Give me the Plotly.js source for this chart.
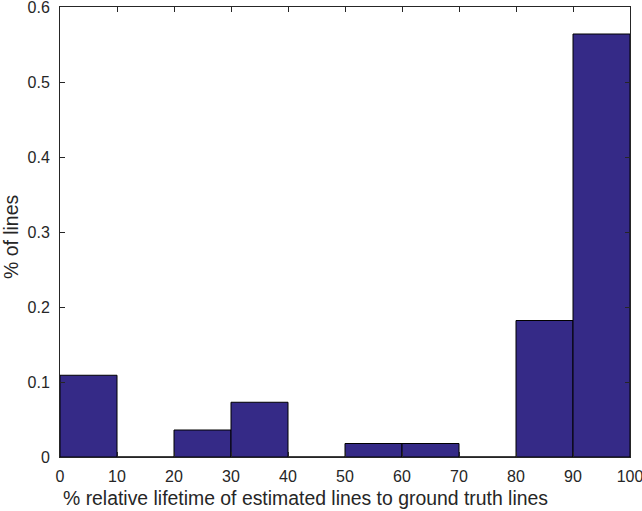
<!DOCTYPE html>
<html lang="en">
<head>
    <meta charset="UTF-8">
    <title>Relative lifetime histogram</title>
    <script src="https://cdn.plot.ly/plotly-3.0.1.min.js"></script>
    <style>
        body { margin: 0; padding: 0; background: white; }
        #plot { width: 642px; height: 511px; }
    </style>
</head>
<body>
    <div id="plot"></div>
    <script>
        // bin edges (percent) and fraction of lines in each bin
        const binStarts = [0, 10, 20, 30, 40, 50, 60, 70, 80, 90];
        const binWidth = 10;
        const fractions = [0.109, 0, 0.036, 0.073, 0, 0.018, 0.018, 0, 0.182, 0.564];
        const xTicks = [0, 10, 20, 30, 40, 50, 60, 70, 80, 90, 100];
        const yTicks = [0, 0.1, 0.2, 0.3, 0.4, 0.5, 0.6];
        const xLabel = '% relative lifetime of estimated lines to ground truth lines';
        const yLabel = '% of lines';

        const axisColor = '#262626';
        const font = {family: 'Liberation Sans, Arial, sans-serif', size: 16, color: '#262626'};
        const labelFont = {family: 'Liberation Sans, Arial, sans-serif', size: 19.4, color: '#262626'};

        const trace = {
            type: 'bar',
            x: binStarts.map(s => s + binWidth / 2),
            y: fractions,
            width: binWidth,
            marker: {color: '#352a87', line: {color: '#000000', width: 1}},
            hoverinfo: 'x+y'
        };

        const axisBase = {
            showline: true,
            linecolor: axisColor,
            linewidth: 1,
            mirror: 'ticks',
            ticks: 'inside',
            ticklen: 5,
            tickcolor: axisColor,
            showgrid: false,
            zeroline: false,
            ticklabeloverflow: 'allow',
            tickfont: font
        };

        const layout = {
            width: 642,
            height: 511,
            margin: {l: 60, r: 12, t: 7, b: 54},
            paper_bgcolor: 'white',
            plot_bgcolor: 'white',
            showlegend: false,
            bargap: 0,
            font: font,
            xaxis: Object.assign({}, axisBase, {
                range: [0, 100],
                tickvals: xTicks,
                ticktext: xTicks.map(String),
                ticklabelstandoff: 5
            }),
            yaxis: Object.assign({}, axisBase, {
                range: [0, 0.6],
                tickvals: yTicks,
                ticktext: yTicks.map(v => v === 0 ? '0' : v.toFixed(1)),
                ticklabelstandoff: 6
            }),
            // axis labels placed as in the original figure
            annotations: [
                {
                    text: xLabel, xref: 'paper', yref: 'paper',
                    x: 0.43, y: -0.091, xanchor: 'center', yanchor: 'middle',
                    showarrow: false, font: labelFont
                },
                {
                    text: yLabel, xref: 'paper', yref: 'paper', textangle: -90,
                    x: -0.086, y: 0.489, xanchor: 'center', yanchor: 'middle',
                    showarrow: false, font: labelFont
                }
            ]
        };

        Plotly.newPlot('plot', [trace], layout, {displayModeBar: false, staticPlot: true});
    </script>
</body>
</html>
